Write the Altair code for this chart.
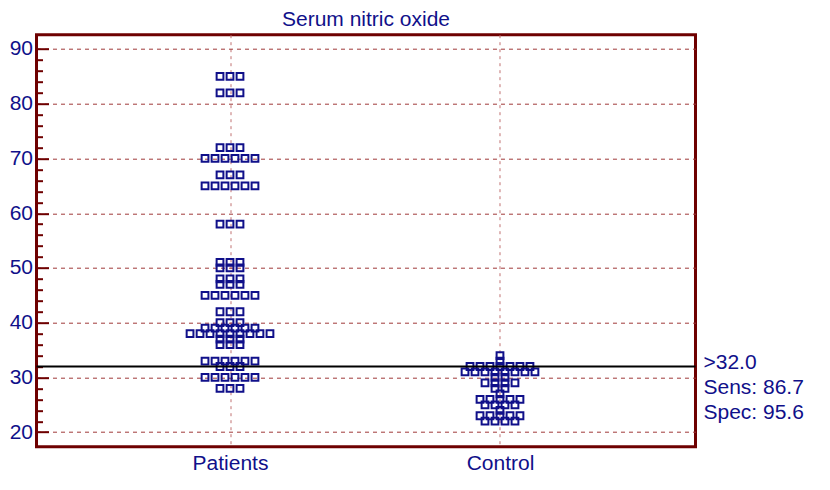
import json
import altair as alt
import pandas as pd

# ---- data ----
groups = ["Patients", "Control"]
patients_values = [85, 82, 72, 70, 67, 65, 58, 51, 50, 48, 47, 45, 42, 40, 39, 38, 37, 36, 33, 32, 30, 28]
patients_counts = [3, 3, 3, 6, 3, 6, 3, 3, 3, 3, 3, 6, 3, 3, 6, 9, 3, 3, 6, 3, 6, 3]
control_values = [34, 33, 32, 31, 30, 29, 28, 27, 26, 25, 24, 23, 22]
control_counts = [1, 1, 7, 8, 2, 4, 2, 1, 5, 4, 1, 5, 4]

threshold = 32.0
annot_lines = [">32.0", "Sens: 86.7", "Spec: 95.6"]
title_text = "Serum nitric oxide"

y_major = [20, 30, 40, 50, 60, 70, 80, 90]
y_minor = [v for v in range(22, 90, 2) if v % 10 != 0]
y_domain = [17.35, 92.61]
x_domain = [0.2833, 2.7241]

# ---- style ----
NAVY = "#10108a"
MAROON = "#6e0000"
FONT = "Liberation Sans"
FS = 21
W, H = 659, 412
STEP = 0.037  # horizontal spacing of tied points (x units)

rows = []
for gi, (g, vals, cnts) in enumerate([(groups[0], patients_values, patients_counts),
                                      (groups[1], control_values, control_counts)]):
    for v, c in zip(vals, cnts):
        for _ in range(c):
            rows.append({"group": g, "gi": gi + 1, "value": v})
df = pd.DataFrame(rows)

ys = alt.Scale(domain=y_domain, nice=False, zero=False)
xs = alt.Scale(domain=x_domain, nice=False, zero=False)

label_expr = f"{json.dumps(groups)}[round(datum.value) - 1]"

points = (
    alt.Chart(df)
    .transform_window(k="row_number()", groupby=["group", "value"])
    .transform_joinaggregate(n="count()", groupby=["group", "value"])
    .transform_calculate(xpos=f"datum.gi + (datum.k - (datum.n + 1) / 2) * {STEP}")
    .mark_point(shape="square", filled=False, size=46, strokeWidth=2, color=NAVY, opacity=1)
    .encode(
        x=alt.X("xpos:Q", scale=xs, axis=alt.Axis(
            values=[1, 2], labelExpr=label_expr, title=None, grid=True,
            gridDash=[3, 4], gridColor="#c07070", gridWidth=1, ticks=False, domain=False,
            labelFont=FONT, labelFontSize=FS, labelColor=NAVY, labelPadding=6)),
        y=alt.Y("value:Q", scale=ys, axis=alt.Axis(
            orient="left", values=y_major, title=None, grid=True, gridDash=[4, 4],
            gridColor="#a03838", gridWidth=1, ticks=False, domain=False,
            labelFont=FONT, labelFontSize=FS, labelColor=NAVY, labelPadding=4)),
    )
)

cut = pd.DataFrame({"cut": [threshold]})
rule = (
    alt.Chart(cut)
    .mark_rule(color="black", strokeWidth=1.8)
    .encode(y=alt.Y("cut:Q", scale=ys, axis=alt.Axis(
        orient="left", offset=-12, tickSize=12, values=y_major, labels=False,
        domain=False, grid=False, tickColor=MAROON, tickWidth=2, title=None)))
)

annot = (
    alt.Chart(cut)
    .mark_text(align="left", baseline="alphabetic", font=FONT, fontSize=FS, color=NAVY,
               lineHeight=24.7, dx=8, dy=3)
    .encode(
        y=alt.Y("cut:Q", scale=ys, axis=alt.Axis(
            orient="left", offset=-6, tickSize=6, values=y_minor, labels=False,
            domain=False, grid=False, tickColor=MAROON, tickWidth=2, title=None)),
        x=alt.value(W),
        text=alt.value(annot_lines),
    )
)

chart = (
    alt.layer(points, rule, annot)
    .resolve_scale(y="independent")
    .properties(
        width=W, height=H,
        title=alt.TitleParams(title_text, font=FONT, fontSize=FS, fontWeight="normal",
                              color=NAVY, anchor="middle", offset=5),
        autosize=alt.AutoSizeParams(type="none"),
        padding={"left": 28.5, "top": 26.7, "right": 122, "bottom": 30},
    )
    .configure_view(stroke=MAROON, strokeWidth=3)
)

chart.save("out.html", embed_options={"renderer": "svg", "actions": False})
